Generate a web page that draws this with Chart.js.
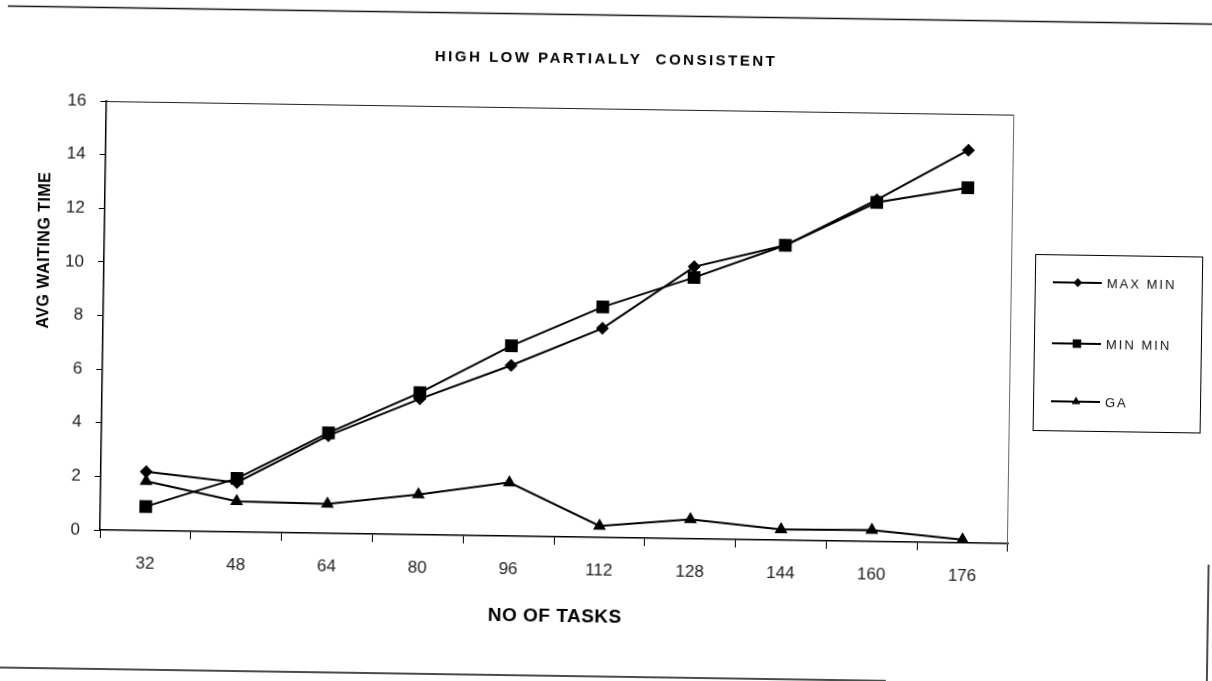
<!DOCTYPE html>
<html>
<head>
<meta charset="utf-8">
<script src="https://cdn.jsdelivr.net/npm/chart.js@4.4.0/dist/chart.umd.min.js"></script>
<style>
  html, body { margin: 0; padding: 0; background: #fff; overflow: hidden; }
  #wrap { width: 1212px; height: 681px; }
  /* the source is a scan that sits slightly rotated on the page */
  #chart { transform: rotate(0.86deg); transform-origin: 100px 530px; }
</style>
</head>
<body>
<div id="wrap"><canvas id="chart" width="1212" height="681"></canvas></div>
<script>
// values
const taskCounts = ['32', '48', '64', '80', '96', '112', '128', '144', '160', '176'];
const maxMin = [2.2, 1.85, 3.65, 5.07, 6.37, 7.8, 10.15, 11.0, 12.75, 14.65];
const minMin = [0.9, 2.0, 3.75, 5.3, 7.1, 8.6, 9.75, 11.0, 12.65, 13.25];
const ga = [1.85, 1.15, 1.1, 1.5, 2.0, 0.43, 0.73, 0.4, 0.43, 0.12];
const seriesNames = ['MAX MIN', 'MIN MIN', 'GA'];
const yMin = 0, yMax = 16, yStep = 2;

const chartTitle = 'HIGH LOW PARTIALLY  CONSISTENT';
const xTitle = 'NO OF TASKS';
const yTitle = 'AVG WAITING TIME';

const FONT = '"Liberation Sans", Arial, sans-serif';

// titles, plot frame, legend box and the outer border of the page
const decor = {
  id: 'decor',
  afterDraw(chart) {
    const ctx = chart.ctx;
    const a = chart.chartArea;
    ctx.save();

    // outer frame
    ctx.strokeStyle = '#111';
    ctx.lineWidth = 1.5;
    ctx.beginPath();
    ctx.moveTo(-50, 7.5); ctx.lineTo(1300, 7.5);
    ctx.moveTo(-50, 669); ctx.lineTo(888, 669);
    ctx.moveTo(1209, 548); ctx.lineTo(1209, 720);
    ctx.stroke();

    // top and right edge of the plot area
    ctx.lineWidth = 1;
    ctx.strokeStyle = '#222';
    ctx.beginPath();
    ctx.moveTo(a.left, a.top + 0.5); ctx.lineTo(a.right, a.top + 0.5);
    ctx.stroke();
    ctx.strokeStyle = '#666';
    ctx.beginPath();
    ctx.moveTo(a.right - 0.5, a.top); ctx.lineTo(a.right - 0.5, a.bottom);
    ctx.stroke();

    // chart title
    ctx.fillStyle = '#000';
    ctx.textAlign = 'center';
    ctx.textBaseline = 'middle';
    ctx.font = 'bold 15px ' + FONT;
    ctx.letterSpacing = '2.5px';
    ctx.fillText(chartTitle, 599, 52);

    // x axis title
    ctx.font = 'bold 19px ' + FONT;
    ctx.letterSpacing = '0.5px';
    ctx.fillText(xTitle, 556, 610);

    // y axis title
    ctx.save();
    ctx.translate(41, 251);
    ctx.rotate(-Math.PI / 2);
    ctx.font = 'bold 16px ' + FONT;
    ctx.letterSpacing = '0.5px';
    ctx.fillText(yTitle, 0, 0);
    ctx.restore();

    // legend
    ctx.letterSpacing = '0px';
    ctx.strokeStyle = '#000';
    ctx.lineWidth = 1;
    ctx.strokeRect(1031.5, 240.5, 167, 176);
    const rowY = [268, 329, 387];
    chart.data.datasets.forEach((ds, i) => {
      const y = rowY[i];
      ctx.strokeStyle = '#000';
      ctx.lineWidth = 2;
      ctx.beginPath();
      ctx.moveTo(1049, y); ctx.lineTo(1098, y);
      ctx.stroke();
      ctx.fillStyle = '#000';
      Chart.helpers.drawPoint(ctx, {
        pointStyle: ds.pointStyle,
        radius: ds.legendRadius,
        rotation: 0,
        borderWidth: 0
      }, 1074, y);
      ctx.fillStyle = '#111';
      ctx.textAlign = 'left';
      ctx.textBaseline = 'middle';
      ctx.font = '13px ' + FONT;
      ctx.letterSpacing = '2px';
      ctx.fillText(ds.label, 1103, y + 1);
    });

    ctx.restore();
  }
};

const lineStyle = {
  borderColor: '#000',
  backgroundColor: '#000',
  borderWidth: 2,
  pointBorderWidth: 0,
  tension: 0,
  fill: false
};

new Chart(document.getElementById('chart'), {
  type: 'line',
  data: {
    labels: taskCounts,
    datasets: [
      { ...lineStyle, label: seriesNames[0], data: maxMin, pointStyle: 'rectRot', pointRadius: 6.5, legendRadius: 4.5 },
      { ...lineStyle, label: seriesNames[1], data: minMin, pointStyle: 'rect', pointRadius: 9, legendRadius: 6 },
      { ...lineStyle, label: seriesNames[2], data: ga, pointStyle: 'triangle', pointRadius: 7.5, legendRadius: 5 }
    ]
  },
  options: {
    responsive: false,
    animation: false,
    layout: { padding: { top: 101, right: 204, bottom: 0, left: 0 } },
    plugins: {
      legend: { display: false },
      title: { display: false },
      tooltip: { enabled: false }
    },
    scales: {
      x: {
        type: 'category',
        offset: true,
        afterFit(scale) { scale.height = 151; },
        grid: {
          offset: true,
          drawOnChartArea: false,
          drawTicks: true,
          tickLength: 8,
          color: '#000',
          lineWidth: 1
        },
        border: { display: true, color: '#000', width: 1.5 },
        ticks: {
          color: '#222',
          padding: 15,
          maxRotation: 0,
          font: { family: FONT, size: 17 }
        }
      },
      y: {
        min: yMin,
        max: yMax,
        afterFit(scale) { scale.width = 100; },
        grid: {
          drawOnChartArea: false,
          drawTicks: true,
          tickLength: 6,
          color: '#000',
          lineWidth: 1
        },
        border: { display: true, color: '#000', width: 1.5 },
        ticks: {
          stepSize: yStep,
          color: '#222',
          padding: 14,
          font: { family: FONT, size: 17 }
        }
      }
    }
  },
  plugins: [decor]
});
</script>
</body>
</html>
